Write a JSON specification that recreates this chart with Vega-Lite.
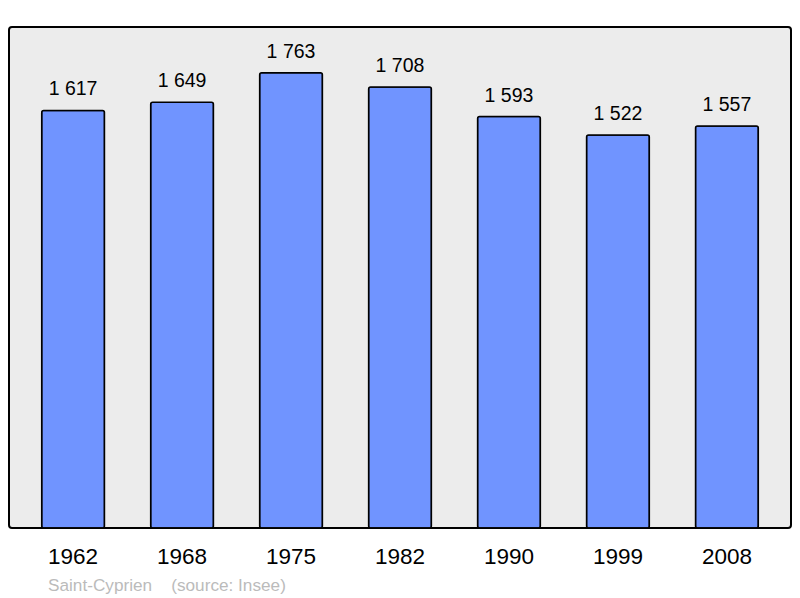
{
  "$schema": "https://vega.github.io/schema/vega-lite/v6.json",
  "autosize": "none",
  "width": 782,
  "height": 501,
  "padding": {"left": 9, "top": 27, "right": 9, "bottom": 70},
  "background": "white",
  "config": {
    "view": {"fill": "#ececec", "stroke": "black", "strokeWidth": 2, "cornerRadius": 3},
    "font": "Liberation Sans"
  },
  "title": {
    "text": "Saint-Cyprien\u00a0\u00a0\u00a0\u00a0(source: Insee)",
    "orient": "bottom",
    "anchor": "start",
    "frame": "group",
    "dx": 39,
    "offset": 9,
    "fontSize": 17.2,
    "fontWeight": "normal",
    "color": "#bbbbbb",
    "font": "Liberation Sans"
  },
  "data": {
    "values": [
      {"year": "1962", "pop": 1617, "label": "1 617"},
      {"year": "1968", "pop": 1649, "label": "1 649"},
      {"year": "1975", "pop": 1763, "label": "1 763"},
      {"year": "1982", "pop": 1708, "label": "1 708"},
      {"year": "1990", "pop": 1593, "label": "1 593"},
      {"year": "1999", "pop": 1522, "label": "1 522"},
      {"year": "2008", "pop": 1557, "label": "1 557"}
    ]
  },
  "encoding": {
    "x": {
      "field": "year", "type": "nominal", "sort": null,
      "scale": {"paddingInner": 0.424, "paddingOuter": 0.3},
      "axis": {"title": null, "domain": false, "ticks": false, "labelAngle": 0, "labelFontSize": 22.5, "labelColor": "black", "labelPadding": 17, "labelFont": "Liberation Sans"}
    },
    "y": {
      "field": "pop", "type": "quantitative",
      "scale": {"domain": [0, 1940], "nice": false},
      "axis": null
    }
  },
  "layer": [
    {"mark": {"type": "bar", "fill": "#7094ff", "stroke": "black", "strokeWidth": 1.5, "cornerRadius": 2}},
    {"mark": {"type": "text", "baseline": "bottom", "dy": -11, "fontSize": 19.5, "color": "black", "font": "Liberation Sans"},
     "encoding": {"text": {"field": "label"}}}
  ]
}
